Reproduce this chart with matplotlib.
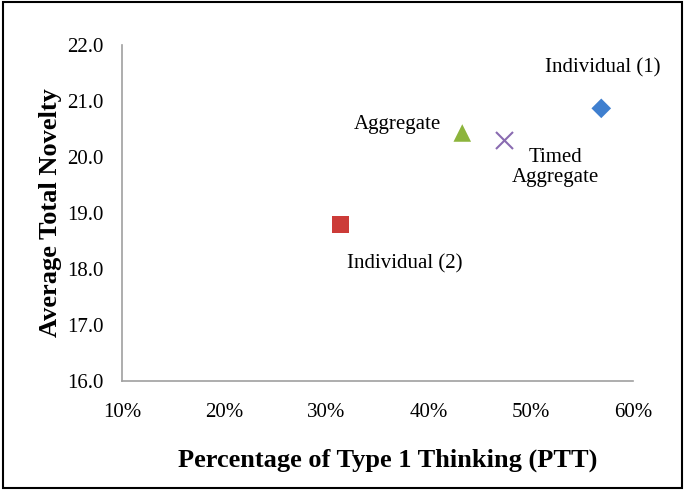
import matplotlib
matplotlib.use("Agg")
import matplotlib.pyplot as plt
from matplotlib.patches import Rectangle
from matplotlib.ticker import FuncFormatter

# Values
groups = ["Individual (1)", "Aggregate", "Timed\nAggregate", "Individual (2)"]
ptt = [0.569, 0.433, 0.474, 0.314]
novelty = [20.87, 20.43, 20.31, 18.79]
markers = ["D", "^", "x", "s"]
colors = ["#3f7fcf", "#8cb43c", "#8a6bb1", "#cc3b38"]
# label offsets in points (dx, dy) from the point
label_offsets = [(1, 29), (-47, 6), (37, -20), (46, -28)]

plt.rcParams["font.family"] = ["Liberation Serif", "DejaVu Serif"]

fig = plt.figure(figsize=(6.85, 4.9), dpi=100)
ax = fig.add_axes([0.178, 0.2224, 0.746, 0.6856])

for x, y, m, c in zip(ptt, novelty, markers, colors):
    if m == "x":
        ax.scatter(x, y, marker=m, s=150, color=c, linewidths=1.5, zorder=3)
    else:
        size = {"D": 100, "^": 160, "s": 150}[m]
        ax.scatter(x, y, marker=m, s=size, color=c, edgecolors="none", zorder=3)

for x, y, name, (dx, dy) in zip(ptt, novelty, groups, label_offsets):
    ax.annotate(name, (x, y), xytext=(dx, dy), textcoords="offset points",
                ha="center", va="center", fontsize=15, linespacing=1.05)

ax.set_xlim(0.10, 0.60)
ax.set_ylim(16.0, 22.0)
ax.set_xticks([0.1, 0.2, 0.3, 0.4, 0.5, 0.6])
ax.set_yticks([16, 17, 18, 19, 20, 21, 22])
ax.xaxis.set_major_formatter(FuncFormatter(lambda v, _: f"{v * 100:.0f}%"))
ax.yaxis.set_major_formatter(FuncFormatter(lambda v, _: f"{v:.1f}"))
ax.tick_params(length=0, labelsize=15)
ax.tick_params(axis="x", pad=16)
ax.tick_params(axis="y", pad=13)

for side in ["top", "right"]:
    ax.spines[side].set_visible(False)
for side in ["left", "bottom"]:
    ax.spines[side].set_color("#a0a0a0")
    ax.spines[side].set_linewidth(1.2)

ax.set_xlabel("Percentage of Type 1 Thinking (PTT)", fontsize=19,
              fontweight="bold", labelpad=19)
ax.xaxis.label.set_x(0.52)
ax.set_ylabel("Average Total Novelty", fontsize=19, fontweight="bold",
              labelpad=4)

fig.patches.append(Rectangle((0.005, 0.005), 0.99, 0.99, transform=fig.transFigure,
                             fill=False, edgecolor="black", linewidth=1.5))

fig.savefig("out.png", dpi=100)
